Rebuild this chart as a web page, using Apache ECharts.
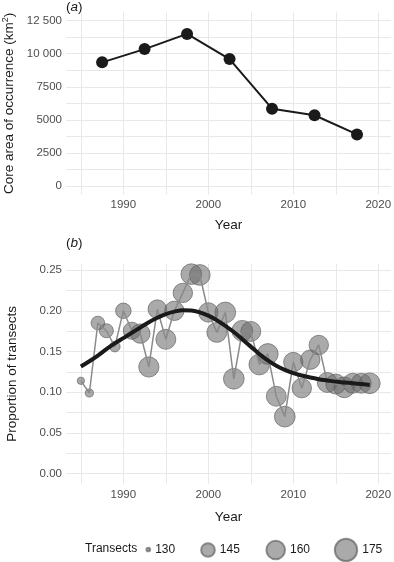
<!DOCTYPE html>
<html>
<head>
<meta charset="utf-8">
<script src="https://cdn.jsdelivr.net/npm/echarts@6/dist/echarts.min.js"></script>
<style>
  html, body { margin: 0; padding: 0; background: #fff; }
  #chart { width: 394px; height: 562px; }
</style>
</head>
<body>
<div id="chart"></div>
<script>
// panel (a): core area of occurrence, 5-year windows
const yearsA = [1987.5, 1992.5, 1997.5, 2002.5, 2007.5, 2012.5, 2017.5];
const areaA = [9350, 10350, 11500, 9600, 5850, 5350, 3900];

// panel (b): proportion of transects per year
const yearsB = [1985, 1986, 1987, 1988, 1989, 1990, 1991, 1992, 1993, 1994, 1995, 1996,
  1997, 1998, 1999, 2000, 2001, 2002, 2003, 2004, 2005, 2006, 2007, 2008, 2009, 2010,
  2011, 2012, 2013, 2014, 2015, 2016, 2017, 2018, 2019];
const propB = [0.114, 0.099, 0.185, 0.1755, 0.156, 0.200, 0.1755, 0.172, 0.131, 0.202,
  0.165, 0.200, 0.222, 0.245, 0.244, 0.198, 0.1735, 0.198, 0.1165, 0.1755, 0.1747, 0.134,
  0.147, 0.095, 0.070, 0.137, 0.105, 0.140, 0.158, 0.112, 0.110, 0.106, 0.111, 0.111, 0.111];
const transectsB = [133, 134, 145, 146, 138, 150, 155, 163, 166, 160, 165, 163, 163, 168,
  168, 163, 165, 168, 168, 168, 165, 168, 168, 165, 168, 163, 163, 163, 163, 165, 165,
  168, 165, 165, 168];
// loess smooth
const smoothB = [0.1315, 0.138, 0.145, 0.153, 0.160, 0.1665, 0.173, 0.1795, 0.186, 0.1915,
  0.196, 0.199, 0.2008, 0.2005, 0.198, 0.194, 0.1885, 0.1815, 0.174, 0.165, 0.156, 0.147,
  0.139, 0.1325, 0.1275, 0.1235, 0.1205, 0.118, 0.116, 0.1145, 0.113, 0.112, 0.111, 0.110, 0.109];

const legendTransects = [130, 145, 160, 175];

// tick labels / gridlines
const xGrid = [1985, 1990, 1995, 2000, 2005, 2010, 2015, 2020];
const xLabels = [1990, 2000, 2010, 2020];
const yGridA = [0, 1250, 2500, 3750, 5000, 6250, 7500, 8750, 10000, 11250, 12500];
const yLabelsA = [0, 2500, 5000, 7500, 10000, 12500];
const yGridB = [0, 0.025, 0.05, 0.075, 0.1, 0.125, 0.15, 0.175, 0.2, 0.225, 0.25];
const yLabelsB = [0, 0.05, 0.1, 0.15, 0.2, 0.25];

const FONT = 'Liberation Sans';
const gridColor = '#e8e8e8';
const pointFill = 'rgba(104,104,104,0.7)';
const pointBorder = 'rgba(90,90,90,0.8)';

function sizeOf(n) {
  return 1.5 + 3.1 * Math.sqrt(Math.max(n - 129.5, 0));
}

function xAxis(idx, gap) {
  return {
    type: 'value', gridIndex: idx, min: 1983.25, max: 2021.5,
    axisLine: { show: false },
    axisTick: { show: false, customValues: xGrid },
    axisLabel: { customValues: xLabels, color: '#4d4d4d', fontSize: 11.5, fontFamily: FONT, margin: 5,
      formatter: v => String(v) },
    splitLine: { show: true, lineStyle: { color: gridColor, width: 1 } },
    name: 'Year', nameLocation: 'middle', nameGap: gap,
    nameTextStyle: { color: '#1a1a1a', fontSize: 13.5, fontFamily: FONT }
  };
}

const chart = echarts.init(document.getElementById('chart'));

const legendSeries = legendTransects.map(n => ({
  type: 'scatter', name: String(n), xAxisIndex: 1, yAxisIndex: 1, data: [],
  itemStyle: { color: pointFill, borderColor: pointBorder, borderWidth: 1 }
}));

const legendCenters = [147.3, 207, 274.7, 345];
const legends = legendTransects.map((n, i) => {
  const d = sizeOf(n);
  return {
    data: [String(n)], icon: 'circle', selectedMode: false, padding: 0,
    itemWidth: d, itemHeight: d,
    left: legendCenters[i] - d / 2, top: 549 - Math.max(d, 11) / 2,
    textStyle: { color: '#1a1a1a', fontSize: 12, fontFamily: FONT }
  };
});

chart.setOption({
  animation: false,
  backgroundColor: '#fff',
  textStyle: { fontFamily: FONT },
  title: [
    { text: '({i|a})', left: 66, top: 0, padding: 0,
      textStyle: { fontSize: 13.5, fontWeight: 'normal', color: '#1a1a1a', fontFamily: FONT,
        rich: { i: { fontStyle: 'italic', fontSize: 13.5, color: '#1a1a1a', fontFamily: FONT } } } },
    { text: '({i|b})', left: 66, top: 236, padding: 0,
      textStyle: { fontSize: 13.5, fontWeight: 'normal', color: '#1a1a1a', fontFamily: FONT,
        rich: { i: { fontStyle: 'italic', fontSize: 13.5, color: '#1a1a1a', fontFamily: FONT } } } },
    { text: 'Transects', left: 85, top: 543, padding: 0,
      textStyle: { fontSize: 12, fontWeight: 'normal', color: '#1a1a1a', fontFamily: FONT } }
  ],
  legend: legends,
  grid: [
    { left: 66, width: 325, top: 12.4, height: 181.9, outerBoundsMode: 'none' },
    { left: 66, width: 325, top: 264, height: 219.8, outerBoundsMode: 'none' }
  ],
  xAxis: [xAxis(0, 24), xAxis(1, 26)],
  yAxis: [
    {
      type: 'value', gridIndex: 0, min: -625, max: 13125,
      axisLine: { show: false },
      axisTick: { show: false, customValues: yGridA },
      axisLabel: {
        customValues: yLabelsA, color: '#4d4d4d', fontSize: 11.5, fontFamily: FONT, margin: 4,
        formatter: v => v >= 10000 ? Math.floor(v / 1000) + ' ' + String(v % 1000).padStart(3, '0') : String(v)
      },
      splitLine: { show: true, lineStyle: { color: gridColor, width: 1 } },
      name: 'Core area of occurrence (km{s|2})', nameLocation: 'middle', nameGap: 47,
      nameTextStyle: { color: '#1a1a1a', fontSize: 13.5, fontFamily: FONT,
        rich: { s: { fontSize: 9, verticalAlign: 'top', color: '#1a1a1a', fontFamily: FONT, padding: [0, 0, 6, 0] } } }
    },
    {
      type: 'value', gridIndex: 1, min: -0.0125, max: 0.2575,
      axisLine: { show: false },
      axisTick: { show: false, customValues: yGridB },
      axisLabel: {
        customValues: yLabelsB, color: '#4d4d4d', fontSize: 11.5, fontFamily: FONT, margin: 4,
        formatter: v => v.toFixed(2)
      },
      splitLine: { show: true, lineStyle: { color: gridColor, width: 1 } },
      name: 'Proportion of transects', nameLocation: 'middle', nameGap: 47,
      nameTextStyle: { color: '#1a1a1a', fontSize: 13.5, fontFamily: FONT }
    }
  ],
  series: [
    {
      type: 'line', xAxisIndex: 0, yAxisIndex: 0,
      data: yearsA.map((y, i) => [y, areaA[i]]),
      symbol: 'circle', symbolSize: 12, showSymbol: true,
      lineStyle: { color: '#1a1a1a', width: 2 },
      itemStyle: { color: '#1a1a1a' }
    },
    {
      type: 'line', xAxisIndex: 1, yAxisIndex: 1,
      data: yearsB.map((y, i) => [y, propB[i]]),
      symbol: 'none', lineStyle: { color: '#8a8a8a', width: 1.5 }
    },
    {
      type: 'scatter', xAxisIndex: 1, yAxisIndex: 1,
      data: yearsB.map((y, i) => [y, propB[i], transectsB[i]]),
      symbolSize: v => sizeOf(v[2]),
      itemStyle: { color: pointFill, borderColor: pointBorder, borderWidth: 1 }
    },
    {
      type: 'line', xAxisIndex: 1, yAxisIndex: 1,
      data: yearsB.map((y, i) => [y, smoothB[i]]),
      symbol: 'none', smooth: 0.4,
      lineStyle: { color: '#1a1a1a', width: 4 }
    }
  ].concat(legendSeries)
});
</script>
</body>
</html>
